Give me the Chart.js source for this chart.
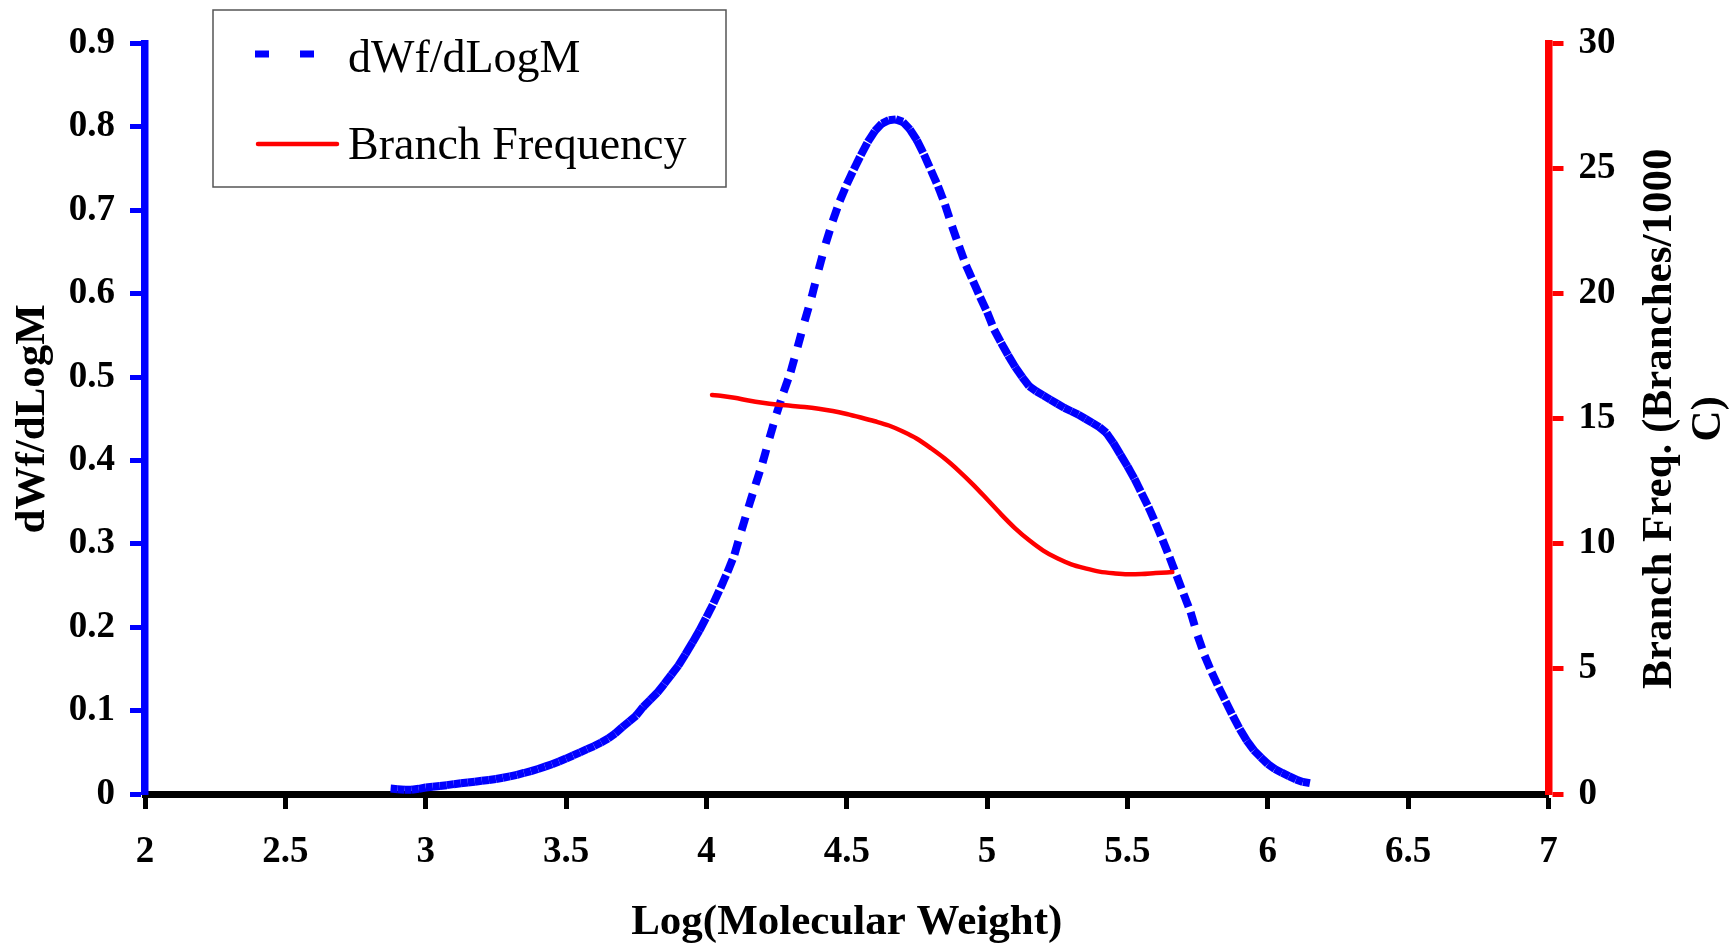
<!DOCTYPE html>
<html>
<head>
<meta charset="utf-8">
<script src="https://cdn.jsdelivr.net/npm/chart.js@4.4.1/dist/chart.umd.min.js"></script>
<style>
html,body{margin:0;padding:0;background:#ffffff;}
#wrap{width:1733px;height:946px;position:relative;}
</style>
</head>
<body>
<div id="wrap"><canvas id="c" width="1733" height="946"></canvas></div>
<script>
// ---------- DATA ----------
const seriesNames = ['dWf/dLogM', 'Branch Frequency'];
const xTitle = 'Log(Molecular Weight)';
const yTitle = 'dWf/dLogM';
const y2TitleLines = ['Branch Freq. (Branches/1000', 'C)'];

const xTickValues = [2, 2.5, 3, 3.5, 4, 4.5, 5, 5.5, 6, 6.5, 7];
const xTickLabels = ['2', '2.5', '3', '3.5', '4', '4.5', '5', '5.5', '6', '6.5', '7'];
const yTickValues = [0, 0.1, 0.2, 0.3, 0.4, 0.5, 0.6, 0.7, 0.8, 0.9];
const yTickLabels = ['0', '0.1', '0.2', '0.3', '0.4', '0.5', '0.6', '0.7', '0.8', '0.9'];
const y2TickValues = [0, 5, 10, 15, 20, 25, 30];
const y2TickLabels = ['0', '5', '10', '15', '20', '25', '30'];

// dWf/dLogM series
const logM = [
  2.875, 2.9, 2.925, 2.95, 2.975, 3, 3.025, 3.05, 3.075, 3.1,
  3.125, 3.15, 3.175, 3.2, 3.225, 3.25, 3.275, 3.3, 3.325, 3.35,
  3.375, 3.4, 3.425, 3.45, 3.475, 3.5, 3.525, 3.55, 3.575, 3.6,
  3.625, 3.65, 3.675, 3.7, 3.725, 3.75, 3.775, 3.8, 3.825, 3.85,
  3.875, 3.9, 3.925, 3.95, 3.975, 4, 4.025, 4.05, 4.075, 4.1,
  4.125, 4.15, 4.175, 4.2, 4.225, 4.25, 4.275, 4.3, 4.325, 4.35,
  4.375, 4.4, 4.425, 4.45, 4.475, 4.5, 4.525, 4.55, 4.575, 4.6,
  4.625, 4.65, 4.675, 4.7, 4.725, 4.75, 4.775, 4.8, 4.825, 4.85,
  4.875, 4.9, 4.925, 4.95, 4.975, 5, 5.025, 5.05, 5.075, 5.1,
  5.125, 5.15, 5.175, 5.2, 5.225, 5.25, 5.275, 5.3, 5.325, 5.35,
  5.375, 5.4, 5.425, 5.45, 5.475, 5.5, 5.525, 5.55, 5.575, 5.6,
  5.625, 5.65, 5.675, 5.7, 5.725, 5.75, 5.775, 5.8, 5.825, 5.85,
  5.875, 5.9, 5.925, 5.95, 5.975, 6, 6.025, 6.05, 6.075, 6.1,
  6.125, 6.15
];
const dwf = [
  0.0065, 0.0058, 0.0050, 0.0050, 0.0062, 0.0078, 0.0088, 0.0097, 0.0106, 0.0118,
  0.0128, 0.0138, 0.0148, 0.0158, 0.0168, 0.0180, 0.0195, 0.0212, 0.0230, 0.0252,
  0.0275, 0.0300, 0.0328, 0.0357, 0.0390, 0.0425, 0.0462, 0.0500, 0.0538, 0.0575,
  0.0618, 0.0665, 0.0725, 0.0800, 0.0870, 0.0940, 0.1045, 0.1130, 0.1215, 0.1320,
  0.1430, 0.1540, 0.1675, 0.1815, 0.1960, 0.2120, 0.2285, 0.2470, 0.2660, 0.2870,
  0.3160, 0.3440, 0.3710, 0.3970, 0.4270, 0.4560, 0.4820, 0.5060, 0.5360, 0.5670,
  0.5960, 0.6290, 0.6600, 0.6870, 0.7110, 0.7310, 0.7490, 0.7660, 0.7820, 0.7950,
  0.8040, 0.8080, 0.8090, 0.8060, 0.7970, 0.7840, 0.7670, 0.7480, 0.7290, 0.7070,
  0.6810, 0.6570, 0.6340, 0.6150, 0.5960, 0.5780, 0.5570, 0.5410, 0.5260, 0.5120,
  0.5000, 0.4890, 0.4830, 0.4780, 0.4730, 0.4680, 0.4630, 0.4590, 0.4550, 0.4500,
  0.4450, 0.4400, 0.4330, 0.4210, 0.4070, 0.3930, 0.3780, 0.3610, 0.3440, 0.3250,
  0.3050, 0.2840, 0.2620, 0.2400, 0.2180, 0.1900, 0.1660, 0.1460, 0.1280, 0.1110,
  0.0940, 0.0780, 0.0640, 0.0525, 0.0440, 0.0360, 0.0300, 0.0255, 0.0215, 0.0175,
  0.0145, 0.0130
];

// Branch frequency series
const bfLogM = [
  4.02, 4.05, 4.1, 4.15, 4.2, 4.25, 4.3, 4.35, 4.4, 4.45,
  4.5, 4.55, 4.6, 4.65, 4.7, 4.75, 4.8, 4.85, 4.9, 4.95,
  5, 5.05, 5.1, 5.15, 5.2, 5.25, 5.3, 5.35, 5.4, 5.45,
  5.5, 5.55, 5.6, 5.66
];
const bf = [
  15.95, 15.92, 15.84, 15.73, 15.64, 15.57, 15.52, 15.47, 15.40, 15.31,
  15.19, 15.05, 14.90, 14.73, 14.49, 14.20, 13.82, 13.40, 12.91, 12.37,
  11.78, 11.18, 10.62, 10.14, 9.73, 9.42, 9.18, 9.02, 8.89, 8.82,
  8.78, 8.79, 8.83, 8.87
];

// ---------- STYLE ----------
const FAMILY = '"Times New Roman", "Liberation Serif", serif';
const BLUE = '#0000FF';
const RED = '#FF0000';
const tickFont = { family: FAMILY, size: 37, weight: 'bold' };
const titleFont = { family: FAMILY, size: 43, weight: 'bold' };

const overlay = {
  id: 'overlay',
  afterDraw(chart) {
    const ctx = chart.ctx;
    const ds = chart.data.datasets;
    ctx.save();
    // legend box
    ctx.fillStyle = '#ffffff';
    ctx.fillRect(213, 10, 513, 177);
    ctx.strokeStyle = '#555555';
    ctx.lineWidth = 1.5;
    ctx.strokeRect(213, 10, 513, 177);
    // blue sample
    ctx.strokeStyle = ds[0].borderColor;
    ctx.lineWidth = 7;
    ctx.lineCap = 'butt';
    ctx.setLineDash([14, 31]);
    ctx.beginPath(); ctx.moveTo(255, 54); ctx.lineTo(314, 54); ctx.stroke();
    ctx.setLineDash([]);
    // red sample
    ctx.strokeStyle = ds[1].borderColor;
    ctx.lineWidth = 4.5;
    ctx.lineCap = 'round';
    ctx.beginPath(); ctx.moveTo(258, 144); ctx.lineTo(337, 144); ctx.stroke();
    // legend text
    ctx.fillStyle = '#000000';
    ctx.font = '46px ' + FAMILY;
    ctx.textAlign = 'left';
    ctx.textBaseline = 'alphabetic';
    ctx.fillText(ds[0].label, 348, 72);
    ctx.fillText(ds[1].label, 348, 159);
    // right axis title (reads bottom-to-top)
    ctx.font = 'bold 43px ' + FAMILY;
    ctx.textAlign = 'center';
    ctx.textBaseline = 'middle';
    const cy = (chart.chartArea.top + chart.chartArea.bottom) / 2;
    const xs = [1660, 1709];
    y2TitleLines.forEach((t, i) => {
      ctx.save();
      ctx.translate(xs[i], cy);
      ctx.rotate(-Math.PI / 2);
      ctx.fillText(t, 0, 0);
      ctx.restore();
    });
    ctx.restore();
  }
};

new Chart(document.getElementById('c'), {
  type: 'line',
  data: {
    datasets: [
      {
        label: seriesNames[0],
        data: logM.map((x, i) => ({ x: x, y: dwf[i] })),
        yAxisID: 'y',
        borderColor: BLUE,
        backgroundColor: BLUE,
        borderWidth: 8,
        borderDash: [14, 31],
        pointRadius: 0,
        tension: 0,
        fill: false,
        order: 1,
        segment: {
          borderDashOffset: c => (c.p0DataIndex % 2) * 0.01
        }
      },
      {
        label: seriesNames[1],
        data: bfLogM.map((x, i) => ({ x: x, y: bf[i] })),
        yAxisID: 'y2',
        borderColor: RED,
        backgroundColor: RED,
        borderWidth: 4.5,
        borderCapStyle: 'round',
        pointRadius: 0,
        cubicInterpolationMode: 'monotone',
        fill: false,
        order: 0
      }
    ]
  },
  options: {
    responsive: false,
    animation: false,
    devicePixelRatio: 1,
    layout: { padding: { top: 43.5, left: 0, right: 0, bottom: 0 } },
    plugins: { legend: { display: false }, tooltip: { enabled: false } },
    scales: {
      x: {
        type: 'linear', position: 'bottom', min: 2, max: 7,
        afterBuildTicks: s => { s.ticks = xTickValues.map(v => ({ value: v })); },
        afterFit: s => { s.height = 152; },
        border: { display: true, color: '#000000', width: 7 },
        grid: { drawOnChartArea: false, drawTicks: true, tickLength: 15, tickWidth: 5, tickColor: '#000000', color: '#000000' },
        ticks: { color: '#000000', padding: 21, font: tickFont, maxRotation: 0, autoSkip: false,
                 callback: (v, i) => xTickLabels[i] },
        title: { display: true, text: xTitle, color: '#000000',
                 font: { family: FAMILY, size: 43, weight: 'bold', lineHeight: 1.0 },
                 padding: { top: 0, bottom: 2 } }
      },
      y: {
        type: 'linear', position: 'left', min: 0, max: 0.9,
        afterBuildTicks: s => { s.ticks = yTickValues.map(v => ({ value: v })); },
        afterFit: s => { s.width = 145; },
        border: { display: true, color: BLUE, width: 7.5 },
        grid: { drawOnChartArea: false, drawTicks: true, tickLength: 15, tickWidth: 5, tickColor: BLUE, color: BLUE },
        ticks: { color: '#000000', padding: 15, font: tickFont, autoSkip: false,
                 callback: (v, i) => yTickLabels[i] },
        title: { display: true, text: yTitle, color: '#000000', font: titleFont, padding: { top: 7, bottom: 0 } }
      },
      y2: {
        type: 'linear', position: 'right', min: 0, max: 30,
        afterBuildTicks: s => { s.ticks = y2TickValues.map(v => ({ value: v })); },
        afterFit: s => { s.width = 184.5; },
        border: { display: true, color: RED, width: 7.5 },
        grid: { drawOnChartArea: false, drawTicks: true, tickLength: 15, tickWidth: 5, tickColor: RED, color: RED },
        ticks: { color: '#000000', padding: 15, font: tickFont, autoSkip: false,
                 callback: (v, i) => y2TickLabels[i] },
        title: { display: false }
      }
    }
  },
  plugins: [overlay]
});
</script>
</body>
</html>
